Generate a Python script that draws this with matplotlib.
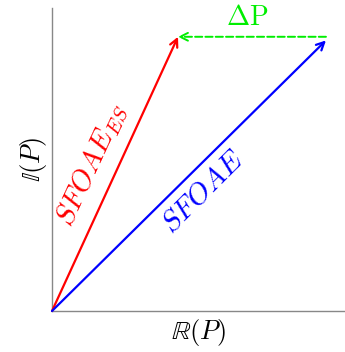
import numpy as np
import matplotlib.pyplot as plt

plt.rcParams['mathtext.fontset'] = 'cm'
plt.rcParams['font.family'] = 'serif'
plt.rcParams['font.serif'] = ['DejaVu Serif']

# vectors from origin
labels = [r'$SFOAE_{ES}$', r'$SFOAE$']
tip_x = [0.43, 0.935]
tip_y = [0.905, 0.893]
colors = ['red', 'blue']
delta_label = r'$\Delta \mathrm{P}$'

fig = plt.figure(figsize=(3.45, 3.52), dpi=100)
ax = fig.add_axes([52 / 345, 41 / 352, 293 / 345, 303 / 352])
ax.set_xlim(0, 1)
ax.set_ylim(0, 1)

for x, y, c in zip(tip_x, tip_y, colors):
    ax.annotate('', xy=(x, y), xytext=(0, 0),
                arrowprops=dict(arrowstyle='->', color=c, lw=1.6,
                                shrinkA=0, shrinkB=0, mutation_scale=14))

# difference vector, blue tip -> red tip
ax.annotate('', xy=(tip_x[0], tip_y[0]), xytext=(tip_x[1], tip_y[0]),
            arrowprops=dict(arrowstyle='->', color='#00ee00', lw=1.4, ls='--',
                            shrinkA=0, shrinkB=0, mutation_scale=14))
ax.text(0.665, 0.97, delta_label,
        color='#00ee00', fontsize=20, ha='center', va='center')

ax.text(0.137, 0.482, labels[0], color='red', fontsize=21, rotation=65,
        ha='center', va='center', rotation_mode='anchor')
ax.text(0.515, 0.393, labels[1], color='blue', fontsize=21, rotation=45,
        ha='center', va='center', rotation_mode='anchor')

ax.set_xlabel(r'$\mathbb{R}(P)$', fontsize=19, labelpad=4)
ax.set_ylabel(r'$\mathbb{I}(P)$', fontsize=19, labelpad=2)
ax.set_xticks([])
ax.set_yticks([])
for s in ['top', 'right']:
    ax.spines[s].set_visible(False)
for s in ['left', 'bottom']:
    ax.spines[s].set_color('#888888')
    ax.spines[s].set_linewidth(1.0)

fig.savefig('out.png', dpi=100)
